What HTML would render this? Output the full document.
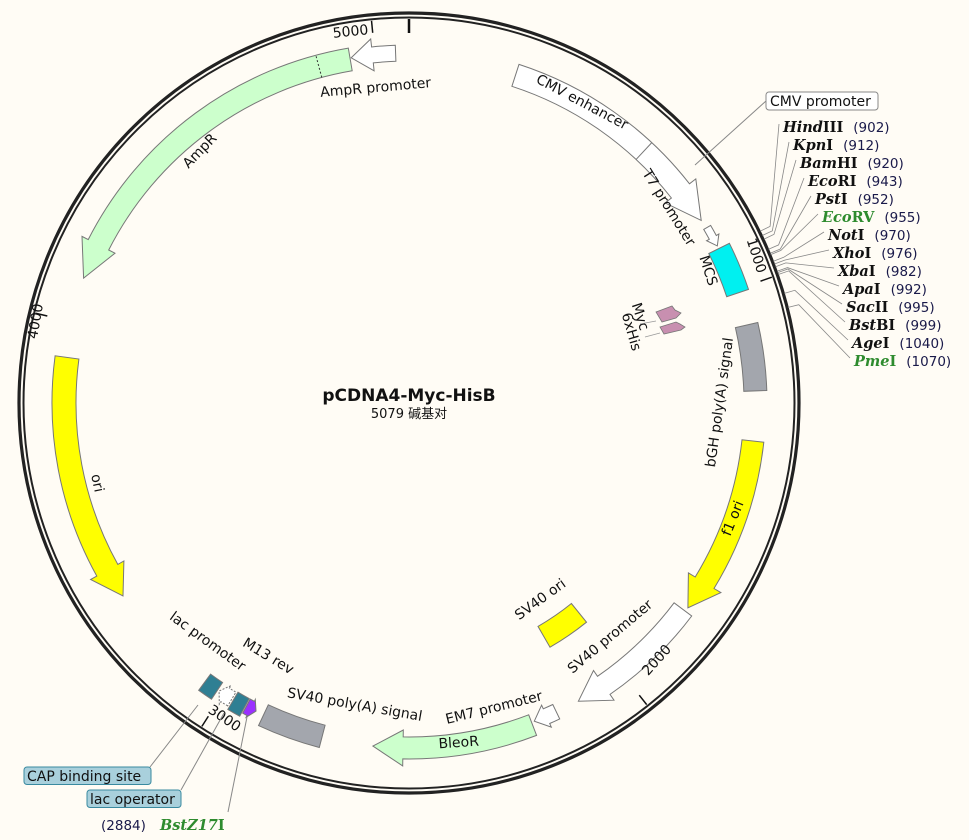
<!DOCTYPE html>
<html><head><meta charset="utf-8"><style>
html,body{margin:0;padding:0;background:#fffcf5;}
svg{display:block;}
text{font-family:"DejaVu Sans","Liberation Sans","Noto Sans CJK SC",sans-serif;font-size:14px;fill:#111;}
.en{font-family:"DejaVu Serif","Liberation Serif",serif;font-weight:bold;font-size:14.5px;}
.num{font-size:13.5px;fill:#1a1a4a;}
</style></head><body>
<svg id="s" width="969" height="840" xmlns="http://www.w3.org/2000/svg">
<rect width="969" height="840" fill="#fffcf5"/>
<circle cx="409" cy="403" r="390" fill="none" stroke="#222" stroke-width="3.2"/>
<circle cx="409" cy="403" r="385.5" fill="none" stroke="#222" stroke-width="2"/>
<g id="f"></g>
<text x="409" y="401" text-anchor="middle" style="font-weight:bold;font-size:17px">pCDNA4-Myc-HisB</text>
<text x="409" y="418" text-anchor="middle" style="font-size:13px">5079 碱基对</text>

<line x1="695" y1="165" x2="766" y2="101" stroke="#888" stroke-width="1"/>
<rect x="766" y="92" width="112" height="18" rx="3" fill="#fff" stroke="#888"/>
<text x="770" y="106">CMV promoter</text>

<line x1="198" y1="705" x2="150" y2="767" stroke="#888"/>
<line x1="224" y1="713" x2="181" y2="790" stroke="#888"/>
<line x1="247" y1="717" x2="228" y2="812" stroke="#888"/>
<rect x="24" y="767" width="127" height="17.5" rx="3" fill="#a9d0dc" stroke="#3a8aa0"/>
<text x="27" y="781">CAP binding site</text>
<rect x="87" y="790" width="94" height="17.5" rx="3" fill="#a9d0dc" stroke="#3a8aa0"/>
<text x="90" y="804">lac operator</text>
<text x="101" y="830" class="num">(2884)</text>
<text x="160" y="830" class="en" style="fill:#2e8b2e"><tspan font-style="italic">BstZ17</tspan>I</text>

<!-- Myc / 6xHis arrows -->
<polygon points="656,312 672,306 675,310 681,313 676,318 662,322" fill="#c88fb0" stroke="#777" stroke-width="0.8"/>
<polygon points="660,327 676,322 680,324 685,327 681,330 664,334" fill="#c88fb0" stroke="#777" stroke-width="0.8"/>
<line x1="656" y1="321" x2="640" y2="324" stroke="#999" stroke-width="0.8"/>
<line x1="660" y1="333" x2="645" y2="337" stroke="#999" stroke-width="0.8"/>
</svg>
<script>
var cx=409,cy=403,g=document.getElementById('f'),NS='http://www.w3.org/2000/svg';
function P(a,r){a=a*Math.PI/180;return [cx+r*Math.sin(a),cy-r*Math.cos(a)];}
function s(p){return p[0].toFixed(1)+','+p[1].toFixed(1);}
function arc(a1,a2,r){var lg=Math.abs(a2-a1)>180?1:0,sw=a2>a1?1:0;return ' A'+r+','+r+' 0 '+lg+','+sw+' '+s(P(a2,r));}
function add(tag,at){var e=document.createElementNS(NS,tag);for(var k in at)e.setAttribute(k,at[k]);g.appendChild(e);return e;}
function band(a1,a2,r1,r2,fill,dir,h,hx,st){
 st=st||'#777';hx=(hx===undefined)?5:hx;var d;
 if(!dir){d='M'+s(P(a1,r2))+arc(a1,a2,r2)+' L'+s(P(a2,r1))+arc(a2,a1,r1)+'Z';}
 else{var m=(r1+r2)/2,w=(r2-r1)/2+hx;
  if(dir>0){var b=a2-h;d='M'+s(P(a1,r2))+arc(a1,b,r2)+' L'+s(P(b,m+w))+' L'+s(P(a2,m))+' L'+s(P(b,m-w))+' L'+s(P(b,r1))+arc(b,a1,r1)+'Z';}
  else{var b=a1+h;d='M'+s(P(a2,r2))+arc(a2,b,r2)+' L'+s(P(b,m+w))+' L'+s(P(a1,m))+' L'+s(P(b,m-w))+' L'+s(P(b,r1))+arc(b,a2,r1)+'Z';}}
 return add('path',{d:d,fill:fill,stroke:st,'stroke-width':1});
}
[0,1000,2000,3000,4000,5000].forEach(function(bp){var a=bp/5079*360;var p1=P(a,384),p2=P(a,bp?372:370);add('line',{x1:p1[0],y1:p1[1],x2:p2[0],y2:p2[1],stroke:'#111','stroke-width':bp?1.5:2.5});});
band(18,58,333,356,'#fff',1,6,8);
var dv1=P(43,333),dv2=P(43,356);add('line',{x1:dv1[0],y1:dv1[1],x2:dv2[0],y2:dv2[1],stroke:'#777'});
band(59.5,63,342,350,'#fff',1,1.6,3);
band(63.5,71.5,335,358,'#00f0f0');
band(77,88,335,358,'#a3a6ad');
band(96.3,126.3,335,357,'#ffff00',1,5,8);
band(127,150.4,332,354,'#fff',1,5,7);
band(141,150,258,282,'#ffff00');
band(154.5,158.5,334,350,'#fff',1,2.2,4);
band(159,186,334,356,'#ccffcc',1,5,7);
band(194.6,205,333,356,'#a3a6ad');
band(206.4,208.2,336,352,'#9b30ff',-1,1,2);
band(208.4,210.6,336,356,'#2f7f93');
band(210.9,213.4,337,353,'#fff',1,1.2,3).setAttribute('stroke-dasharray','2,1.5');
band(213.7,216.2,336,356,'#2f7f93');
band(236,277.6,333,357,'#ffff00',-1,5,7);
band(291,350.3,337,360,'#ccffcc',-1,6,7);
var d1=P(345,337),d2=P(345,360);add('line',{x1:d1[0],y1:d1[1],x2:d2[0],y2:d2[1],stroke:'#333','stroke-dasharray':'2,2'});
band(350.5,357.8,342,358,'#fff',-1,3.5,8);
function lab(t,x,y,rot){var e=add('text',{x:x,y:y,transform:'rotate('+rot+' '+x+' '+y+')','text-anchor':'middle'});e.textContent=t;}
lab('5000',351,36,-6);
lab('AmpR promoter',376,92,-5);
lab('CMV enhancer',580,106,28);
lab('T7 promoter',665,210,58);
lab('MCS',704,272,72);
lab('1000',752,257,72);
lab('Myc',636,318,72);
lab('6xHis',627,333,74);
lab('bGH poly(A) signal',724,403,-82);
lab('f1 ori',737,520,-68);
lab('SV40 ori',543,603,-36);
lab('SV40 promoter',613,640,-40);
lab('2000',660,663,-48);
lab('EM7 promoter',495,712,-14);
lab('BleoR',459,747,-4);
lab('SV40 poly(A) signal',354,709,10);
lab('M13 rev',266,660,31);
lab('lac promoter',205,645,36);
lab('3000',222,722,34);
lab('ori',93,484,78);
lab('AmpR',203,154,-46);
lab('4000',40,322,-80);
var E=[['Hind','III','(902)',902,783,132],['Kpn','I','(912)',912,793,150],['Bam','HI','(920)',920,800,168],['Eco','RI','(943)',943,808,186],['Pst','I','(952)',952,815,204],['Eco','RV','(955)',955,822,222,1],['Not','I','(970)',970,828,240],['Xho','I','(976)',976,833,258],['Xba','I','(982)',982,838,276],['Apa','I','(992)',992,843,294],['Sac','II','(995)',995,846,312],['Bst','BI','(999)',999,849,330],['Age','I','(1040)',1040,852,348],['Pme','I','(1070)',1070,854,366,1]];
E.forEach(function(e,i){var a=e[3]/5079*360;var p1=P(a,391),p2=P(a,402);
 add('polyline',{points:s(p1)+' '+s(p2)+' '+(e[4]-4)+','+(e[5]-8),fill:'none',stroke:'#888','stroke-width':0.8});
 var t=add('text',{x:e[4],y:e[5],'class':'en'});if(e[6])t.setAttribute('style','fill:#2e8b2e');
 t.innerHTML='<tspan font-style="italic">'+e[0]+'</tspan>'+e[1]+'<tspan class="num" font-weight="normal" style="font-family:DejaVu Sans,sans-serif;fill:#1a1a4a" dx="10">'+e[2]+'</tspan>';
});
</script>
</body></html>
